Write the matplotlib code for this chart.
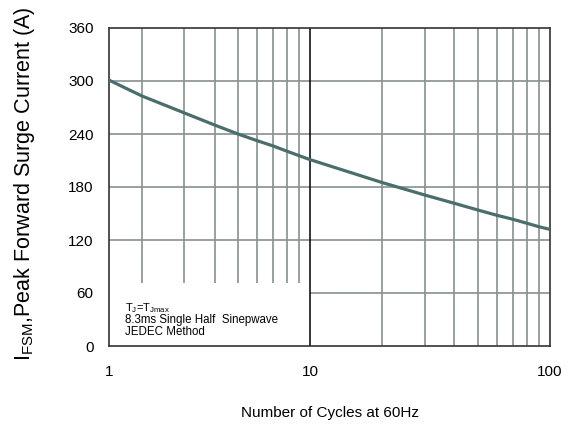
import numpy as np
import matplotlib.pyplot as plt
from matplotlib.transforms import blended_transform_factory

plt.rcParams['font.family'] = ['Liberation Sans', 'DejaVu Sans']
plt.rcParams['mathtext.fontset'] = 'custom'
plt.rcParams['mathtext.rm'] = 'Liberation Sans'
plt.rcParams['mathtext.it'] = 'Liberation Sans'

# surge current vs number of cycles
cycles = [1, 2, 3, 4, 5, 6, 7, 8, 9, 10, 20, 30, 40, 50, 60, 70, 80, 90, 100]
current = [301, 283, 264, 250, 240, 232.5, 226.5, 220.5, 215.5, 211,
           185, 171, 161.5, 154, 148, 143.5, 139, 135, 132]

y_ticks = [0, 60, 120, 180, 240, 300, 360]
x_ticks = [1, 10, 100]
x_ticklabels = ['1', '10', '100']

# the sheet's first decade is not a true log decade: where its grid lines sit
dec1_x = np.arange(1, 11)
dec1_u = np.array([0, 33, 75, 106, 129, 148, 164, 178, 190, 201]) / 201.0
dec2_w = 240 / 201.0


def fwd(x):
    x = np.clip(np.asarray(x, dtype=float), 1e-3, None)
    lo = np.interp(x, dec1_x, dec1_u)
    hi = 1 + dec2_w * np.log10(np.maximum(x, 10) / 10)
    out = np.where(x <= 10, lo, hi)
    return np.where(x < 1, np.log10(x) * 0.164 / np.log10(2), out)


def inv(u):
    u = np.asarray(u, dtype=float)
    lo = np.interp(u, dec1_u, dec1_x)
    hi = 10 * 10 ** ((u - 1) / dec2_w)
    return np.where(u <= 1, lo, hi)


fig = plt.figure(figsize=(5.76, 4.28), dpi=100)
ax = fig.add_axes([109 / 576, 1 - 346 / 428, 441 / 576, 318 / 428])
ax.set_xscale('function', functions=(fwd, inv))
ax.set_xlim(1, 100)
ax.set_ylim(0, 360)

grid_c = '#879190'
# vertical grid, first decade stops above the note box
ax.vlines(range(2, 10), 71, 360, color=grid_c, lw=1.2, zorder=1)
ax.vlines(range(20, 100, 10), 0, 360, color=grid_c, lw=1.2, zorder=1)
ax.vlines(10, 0, 360, color='black', lw=1.1, zorder=2)
for yv in y_ticks[2:-1]:
    ax.axhline(yv, color=grid_c, lw=1.2, zorder=1)
ax.hlines(60, 10, 100, color=grid_c, lw=1.2, zorder=1)

ax.plot(cycles, current, color='#4a6e6c', lw=2.3, zorder=3)

ax.set_yticks(y_ticks)
ax.set_xticks(x_ticks)
ax.set_xticklabels(x_ticklabels)
ax.xaxis.set_minor_locator(plt.NullLocator())
ax.tick_params(length=0, labelsize=11)
ax.tick_params(axis='x', pad=14)
ax.tick_params(axis='y', pad=11)
for s in ax.spines.values():
    s.set_color('#333333')
    s.set_linewidth(1.2)

note = blended_transform_factory(ax.transAxes, ax.transData)
ax.text(0.036, 43, 'T$_{\\mathrm{J}}$=T$_{\\mathrm{Jmax}}$', fontsize=8,
        va='center', transform=note)
ax.text(0.036, 22.6, '8.3ms Single Half  Sinepwave\nJEDEC Method', fontsize=8.3,
        va='center', linespacing=0.95, transform=note)

fig.text(330 / 576, 1 - 413 / 428, 'Number of Cycles at 60Hz', fontsize=11,
         ha='center', va='center')
fig.text(25 / 576, 1 - 184 / 428,
         'I$_{\\mathrm{FSM}}$,Peak Forward Surge Current (A)', fontsize=15.5,
         rotation=90, ha='center', va='center')

fig.savefig('out.png', dpi=100)
